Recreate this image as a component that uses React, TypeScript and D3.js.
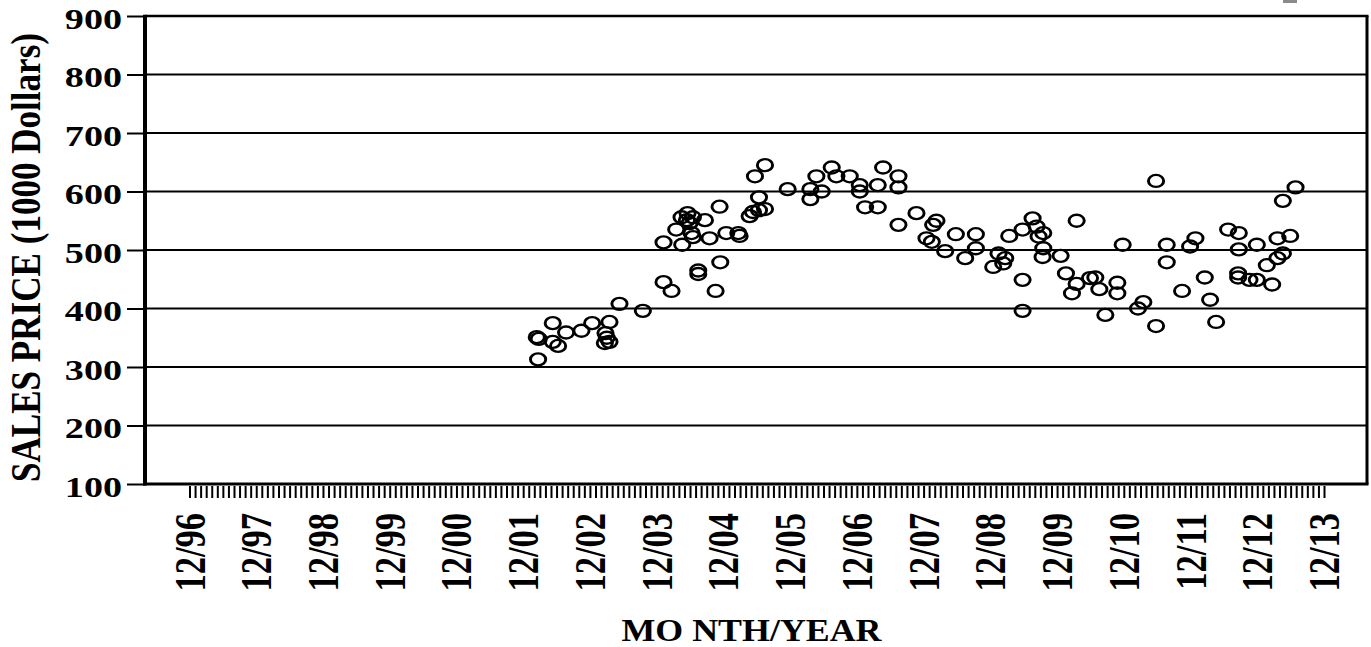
import * as d3 from 'd3';
import React, { useEffect, useRef } from 'react';

// sale dates as decimal years
const saleDates = [
  2002.12, 2002.15, 2002.14, 2002.36, 2002.36, 2002.44, 2002.56, 2002.79, 2002.95, 2003.21,
  2003.15, 2003.17, 2003.14, 2003.21, 2003.36, 2003.71, 2004.02, 2004.14, 2004.02, 2004.30,
  2004.21, 2004.29, 2004.38, 2004.46, 2004.37, 2004.41, 2004.64, 2004.44, 2004.46, 2004.71,
  2004.54, 2004.54, 2004.86, 2004.96, 2004.87, 2004.80, 2005.14, 2005.16, 2005.31, 2005.36,
  2005.45, 2005.54, 2005.45, 2005.39, 2005.54, 2005.88, 2006.22, 2006.22, 2006.31, 2006.39,
  2006.54, 2006.61, 2006.81, 2006.96, 2006.96, 2007.04, 2007.23, 2007.23, 2007.31, 2007.54,
  2007.54, 2007.54, 2007.81, 2008.11, 2008.06, 2007.96, 2008.04, 2008.24, 2008.40, 2008.54,
  2008.70, 2008.70, 2008.96, 2009.04, 2009.14, 2009.11, 2009.20, 2009.40, 2009.55, 2009.61,
  2009.64, 2009.71, 2009.71, 2009.70, 2009.40, 2009.40, 2009.97, 2010.05, 2010.21, 2010.14,
  2010.21, 2010.41, 2010.49, 2010.55, 2010.64, 2010.82, 2010.82, 2010.90, 2011.13, 2011.21,
  2011.40, 2011.40, 2011.56, 2011.56, 2011.79, 2011.91, 2011.99, 2012.13, 2012.21, 2012.30,
  2012.48, 2012.64, 2012.64, 2012.63, 2012.63, 2012.80, 2012.91, 2012.91, 2013.06, 2013.14,
  2013.22, 2013.22, 2013.30, 2013.41, 2013.30, 2013.49,
];

// sales price, 1000 dollars
const salePrices = [
  351, 348, 313, 375, 343, 336, 359, 362, 375, 377,
  358, 350, 341, 343, 408, 396, 445, 430, 513, 509,
  535, 556, 563, 556, 551, 546, 551, 529, 522, 520,
  465, 459, 574, 529, 479, 430, 529, 524, 558, 565,
  568, 570, 590, 626, 645, 604, 604, 587, 626, 600,
  641, 626, 626, 611, 600, 573, 611, 573, 641, 626,
  607, 543, 563, 550, 543, 520, 514, 498, 527, 486,
  527, 503, 471, 494, 486, 477, 524, 535, 554, 540,
  523, 529, 503, 488, 449, 396, 490, 460, 550, 426,
  442, 452, 453, 433, 389, 444, 426, 509, 400, 411,
  618, 370, 509, 479, 430, 506, 520, 453, 415, 377,
  535, 529, 501, 460, 453, 449, 449, 509, 474, 441,
  520, 486, 494, 524, 584, 607,
];

const yTicks = [100, 200, 300, 400, 500, 600, 700, 800, 900];
const yearLabels = ['12/96', '12/97', '12/98', '12/99', '12/00', '12/01', '12/02', '12/03', '12/04',
  '12/05', '12/06', '12/07', '12/08', '12/09', '12/10', '12/11', '12/12', '12/13'];
const firstMonth = 1996 + 11 / 12; // 12/96
const monthCount = 204;

function App() {
  const ref = useRef<SVGSVGElement>(null);

  useEffect(() => {
    const svg = d3.select(ref.current);
    svg.selectAll('*').remove();

    const W = 1371, H = 647;
    const left = 145, right = 1367, top = 16, bottom = 484;
    const font = '"Liberation Serif", "Times New Roman", Times, serif';
    const sx = 1.27; // the picture is stretched sideways

    const x = d3.scaleLinear().domain([firstMonth, firstMonth + monthCount / 12]).range([189.5, 1324]);
    const y = d3.scaleLinear().domain([100, 900]).range([bottom, top]);

    svg.attr('width', W).attr('height', H);
    svg.append('rect').attr('width', W).attr('height', H).attr('fill', 'white');

    // stray mark at the top right
    svg.append('rect').attr('x', 1283).attr('y', 0).attr('width', 14).attr('height', 3).attr('fill', '#8a8a8a');

    // gridlines
    svg.append('g').selectAll('line')
      .data(yTicks.filter(v => v > 100 && v < 900))
      .enter().append('line')
      .attr('x1', left).attr('x2', right)
      .attr('y1', d => y(d)).attr('y2', d => y(d))
      .attr('stroke', '#000').attr('stroke-width', 2);

    // y axis
    const yAxis = svg.append('g')
      .attr('transform', `translate(${left},0)`)
      .call(d3.axisLeft(y).tickValues(yTicks).tickSize(18).tickFormat(d3.format('d')));
    yAxis.attr('font-family', null).attr('font-size', null);
    yAxis.select('.domain').remove();
    yAxis.selectAll('.tick line').attr('stroke', '#000').attr('stroke-width', 2);
    yAxis.selectAll('.tick text')
      .attr('x', null).attr('dy', 12)
      .attr('transform', `translate(-23,0) scale(${sx},1)`)
      .attr('text-anchor', 'end')
      .style('font-family', font).style('font-size', '30px').style('font-weight', 'bold')
      .attr('fill', '#000');

    // monthly ticks below the axis
    const months = d3.range(monthCount + 1).map(i => firstMonth + i / 12);
    const xAxis = svg.append('g')
      .attr('transform', `translate(0,486)`)
      .call(d3.axisBottom(x).tickValues(months).tickSize(12).tickFormat(() => ''));
    xAxis.select('.domain').remove();
    xAxis.selectAll('.tick line').attr('stroke', '#000').attr('stroke-width', 2);

    // year labels
    svg.append('g').selectAll('text')
      .data(yearLabels)
      .enter().append('text')
      .attr('transform', (d, i) => `translate(${x(firstMonth + i) + 15},513) scale(${sx},1) rotate(-90)`)
      .attr('text-anchor', 'end')
      .style('font-family', font).style('font-size', '34.5px').style('font-weight', 'bold')
      .text(d => d);

    // frame
    const frame = svg.append('g').attr('stroke', '#000');
    frame.append('line').attr('x1', left).attr('x2', right + 1.5).attr('y1', top).attr('y2', top).attr('stroke-width', 2.5);
    frame.append('line').attr('x1', right).attr('x2', right).attr('y1', top).attr('y2', bottom).attr('stroke-width', 3);
    frame.append('line').attr('x1', left - 2).attr('x2', right + 1.5).attr('y1', bottom).attr('y2', bottom).attr('stroke-width', 3);
    frame.append('line').attr('x1', left).attr('x2', left).attr('y1', top - 1.2).attr('y2', bottom + 1.5).attr('stroke-width', 4);

    // points
    svg.append('g').selectAll('circle')
      .data(saleDates.map((d, i) => ({ date: d, price: salePrices[i] })))
      .enter().append('circle')
      .attr('transform', d => `translate(${x(d.date)},${y(d.price)}) scale(${sx},1)`)
      .attr('r', 6)
      .attr('fill', 'none')
      .attr('stroke', '#000')
      .attr('stroke-width', 2.3);

    // titles
    svg.append('text')
      .attr('transform', `translate(40,257.5) scale(${sx},1) rotate(-90)`)
      .attr('text-anchor', 'middle')
      .attr('textLength', 449).attr('lengthAdjust', 'spacingAndGlyphs')
      .style('font-family', font).style('font-size', '34px').style('font-weight', 'bold')
      .text('SALES PRICE (1000 Dollars)');

    svg.append('text')
      .attr('x', 751.5).attr('y', 641)
      .attr('text-anchor', 'middle')
      .attr('textLength', 260).attr('lengthAdjust', 'spacingAndGlyphs')
      .style('font-family', font).style('font-size', '31px').style('font-weight', 'bold')
      .text('MO NTH/YEAR');
  }, []);

  return <svg ref={ref} style={{ position: 'absolute', left: 0, top: 0, display: 'block' }} />;
}

export default App;
